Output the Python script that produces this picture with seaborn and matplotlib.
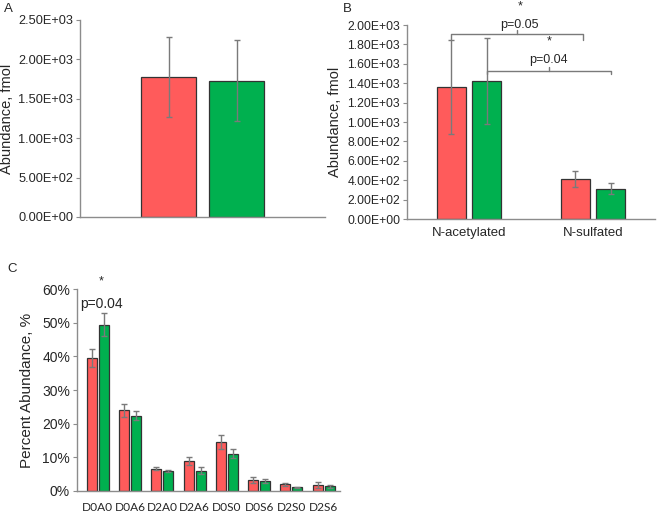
import numpy as np
import pandas as pd
import seaborn as sns
import matplotlib
matplotlib.use("Agg")
from matplotlib import pyplot as plt
from matplotlib.ticker import FuncFormatter, MultipleLocator

# data
groups = ["Control", "Treated"]
pal = {"Control": "#FF5B5B", "Treated": "#00B04F"}

a_mean = [1775, 1730]
a_err = [505, 510]

b_cats = ["N-acetylated", "N-sulfated"]
b_ctrl = [1362, 410]
b_ctrl_err = [482, 80]
b_trt = [1420, 314]
b_trt_err = [445, 56]

c_cats = ["D0A0", "D0A6", "D2A0", "D2A6", "D0S0", "D0S6", "D2S0", "D2S6"]
c_ctrl = [39.6, 23.9, 6.6, 8.9, 14.5, 3.2, 1.9, 1.7]
c_ctrl_err = [2.7, 2.0, 0.4, 1.2, 2.0, 0.9, 0.5, 0.8]
c_trt = [49.5, 22.4, 6.0, 6.0, 11.0, 2.9, 1.1, 1.3]
c_trt_err = [3.5, 1.2, 0.3, 1.1, 1.3, 0.7, 0.15, 0.35]

sns.set_theme(style="white")
plt.rcParams['font.family'] = ['Liberation Sans', 'DejaVu Sans']

fig = plt.figure(figsize=(6.59, 5.18), dpi=100)
axA = fig.add_axes([0.1214, 0.5811, 0.3718, 0.3803])
axB = fig.add_axes([0.6176, 0.5772, 0.3763, 0.3745])
axC = fig.add_axes([0.1168, 0.0527, 0.3991, 0.3888])

AX_COL = "#8C8C8C"
ERR_COL = "#7A7A7A"


def style_axes(ax):
    sns.despine(ax=ax)
    for s in ["left", "bottom"]:
        ax.spines[s].set_color(AX_COL)
        ax.spines[s].set_linewidth(1.0)
    ax.tick_params(axis="y", which="both", left=True, length=3, width=0.8,
                   color=AX_COL, labelsize=9.2, pad=2)
    ax.tick_params(axis="x", bottom=False, length=0)
    ax.set_xlabel("")


def add_errors(ax, df, err_col):
    # one patch per row, in hue order then category order
    bars = [p for p in ax.patches if p.get_height() > 0]
    order = df.sort_values(["hue_i", "cat_i"])
    for p, (_, row) in zip(bars, order.iterrows()):
        x = p.get_x() + p.get_width() / 2
        ax.errorbar(x, p.get_height(), yerr=row[err_col], fmt="none",
                    ecolor=ERR_COL, elinewidth=1.0, capsize=2, capthick=1.0)


# ---- A
dfA = pd.DataFrame({"cat": [""] * 2, "group": groups, "val": a_mean, "err": a_err,
                    "cat_i": [0, 0], "hue_i": [0, 1]})
sns.barplot(data=dfA, x="cat", y="val", hue="group", palette=pal, ax=axA,
            width=0.555, gap=0.2, errorbar=None, edgecolor="#333333",
            linewidth=0.9, saturation=1, legend=False)
add_errors(axA, dfA, "err")
axA.set_ylim(0, 2500)
axA.set_xlim(-0.5, 0.5)
axA.yaxis.set_major_locator(MultipleLocator(500))
axA.yaxis.set_major_formatter(FuncFormatter(lambda v, p: f"{v:.2E}"))
style_axes(axA)
axA.set_xticks([])
axA.set_ylabel("Abundance, fmol", fontsize=10.5)
axA.yaxis.set_label_coords(-0.27, 0.5)

# ---- B
dfB = pd.DataFrame({"cat": b_cats * 2, "group": [groups[0]] * 2 + [groups[1]] * 2,
                    "val": b_ctrl + b_trt, "err": b_ctrl_err + b_trt_err,
                    "cat_i": [0, 1, 0, 1], "hue_i": [0, 0, 1, 1]})
sns.barplot(data=dfB, x="cat", y="val", hue="group", palette=pal, ax=axB,
            width=0.573, gap=0.18, errorbar=None, edgecolor="#333333",
            linewidth=0.9, saturation=1, legend=False)
add_errors(axB, dfB, "err")
axB.set_ylim(0, 2000)
axB.set_xlim(-0.5, 1.5)
axB.yaxis.set_major_locator(MultipleLocator(200))
axB.yaxis.set_major_formatter(FuncFormatter(lambda v, p: f"{v:.2E}"))
style_axes(axB)
axB.tick_params(axis="y", labelsize=8.7)
axB.tick_params(axis="x", labelsize=9.5, pad=6)
axB.set_ylabel("Abundance, fmol", fontsize=10.5)
axB.yaxis.set_label_coords(-0.262, 0.5)

# significance brackets
bc = [p.get_x() + p.get_width() / 2 for p in axB.patches if p.get_height() > 0]
# bc: ctrl acet, ctrl sulf, trt acet, trt sulf
br_col = "#7A7A7A"
x1, x2 = bc[0], bc[1] + 0.065
axB.plot([x1, x1, x2, x2], [1850, 1905, 1905, 1850], color=br_col, lw=1.0, clip_on=False)
xm = (x1 + x2) / 2
axB.plot([xm, xm], [1905, 1950], color=br_col, lw=1.0, clip_on=False)
axB.text(xm + 0.02, 2000, "p=0.05", ha="center", va="center", fontsize=9)
axB.text(xm + 0.02, 2190, "*", ha="center", va="center", fontsize=9)
x1, x2 = bc[2], bc[3]
axB.plot([x1, x1, x2, x2], [1490, 1525, 1525, 1490], color=br_col, lw=1.0, clip_on=False)
xm = (x1 + x2) / 2
axB.plot([xm, xm], [1525, 1565], color=br_col, lw=1.0, clip_on=False)
axB.text(xm, 1635, "p=0.04", ha="center", va="center", fontsize=9)
axB.text(xm, 1830, "*", ha="center", va="center", fontsize=9)

# ---- C
n = len(c_cats)
dfC = pd.DataFrame({"cat": c_cats * 2, "group": [groups[0]] * n + [groups[1]] * n,
                    "val": c_ctrl + c_trt, "err": c_ctrl_err + c_trt_err,
                    "cat_i": list(range(n)) * 2, "hue_i": [0] * n + [1] * n})
sns.barplot(data=dfC, x="cat", y="val", hue="group", palette=pal, ax=axC,
            width=0.745, gap=0.17, errorbar=None, edgecolor="#333333",
            linewidth=0.9, saturation=1, legend=False)
add_errors(axC, dfC, "err")
axC.set_ylim(0, 60)
axC.set_xlim(-0.65, 7.51)
axC.yaxis.set_major_locator(MultipleLocator(10))
axC.yaxis.set_major_formatter(FuncFormatter(lambda v, p: f"{v:.0f}%"))
style_axes(axC)
axC.tick_params(axis="y", labelsize=10)
axC.tick_params(axis="x", pad=8)
for lab in axC.get_xticklabels():
    lab.set_family(["Lato", "DejaVu Sans"])
    lab.set_fontsize(8.6)
axC.set_ylabel("Percent Abundance, %", fontsize=11, labelpad=6)
axC.text(0.1, 55.6, "p=0.04", ha="center", va="center", fontsize=10)
axC.text(0.1, 62.3, "*", ha="center", va="center", fontsize=9, clip_on=False)

# panel letters
fig.text(4 / 659, 1 - 9 / 518, "A", fontsize=9.5, va="center")
fig.text(343 / 659, 1 - 9 / 518, "B", fontsize=9.5, va="center")
fig.text(7 / 659, 1 - 269 / 518, "C", fontsize=9.5, va="center")

fig.savefig("out.png", dpi=100)
